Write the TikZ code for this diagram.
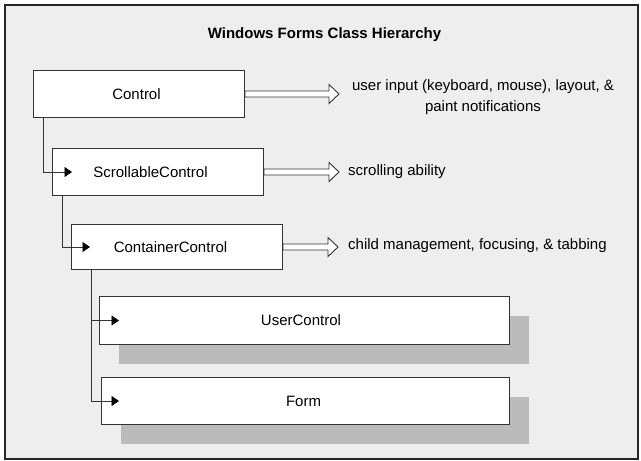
\documentclass[tikz,border=0pt]{standalone}
\usepackage{fontspec}
\setmainfont{Liberation Sans}
\usetikzlibrary{calc,arrows.meta,shadows}
\definecolor{panel}{HTML}{EEEEEE}
\definecolor{shade}{HTML}{BBBBBB}
\definecolor{edge}{HTML}{333333}
\begin{document}
\begin{tikzpicture}[x=1pt,y=-1pt,
  every node/.style={font=\fontsize{15}{21}\selectfont},
  box/.style={draw=edge, line width=1pt, fill=white, anchor=north west, inner sep=0pt},
  shadowed/.style={drop shadow={shadow xshift=19.5pt, shadow yshift=-19pt, fill=shade, opacity=1}},
  txt/.style={inner sep=0pt, text=black},
  tree/.style={draw=edge, line width=0.9pt, -{Triangle[length=7.5pt,width=10pt,fill=black,color=black]}},
  hollow/.style={draw=edge, line width=0.9pt, fill=white, line join=miter,
    to path={let \p1=(\tikztostart), \p2=(\tikztotarget) in
      (\x1,\y1+3pt) -- (\x2-10pt,\y1+3pt) -- (\x2-10pt,\y1+9.5pt) -- (\x2,\y1)
      -- (\x2-10pt,\y1-9.5pt) -- (\x2-10pt,\y1-3pt) -- (\x1,\y1-3pt) -- cycle}}
]
\useasboundingbox (0,0) rectangle (641,461);
\draw[fill=panel, draw=black!85, line width=1.6pt] (5,5) rectangle (638,459);

\node[font=\fontsize{15}{18}\selectfont\bfseries] (title) at (324.5,35) {Windows Forms Class Hierarchy};

% class boxes
\node[box, minimum width=211pt, minimum height=47pt] (ctrl) at (33,70) {\hspace*{-5pt}Control};
\node[box, minimum width=211pt, minimum height=47pt] (scroll) at (52,148) {\hspace*{-15pt}ScrollableControl};
\node[box, minimum width=211pt, minimum height=45pt] (cont) at (71,224) {\hspace*{-13pt}ContainerControl};
\node[box, shadowed, minimum width=410pt, minimum height=48pt] (uc) at (99,296) {\hspace*{-7pt}UserControl};
\node[box, shadowed, minimum width=408pt, minimum height=47pt] (form) at (101,377) {\hspace*{-4pt}Form};

% inheritance connectors
\coordinate (a1) at ([xshift=20pt]scroll.west);
\coordinate (a2) at ([xshift=19pt]cont.west);
\coordinate (a3) at ([xshift=20pt]uc.west);
\coordinate (a4) at ([xshift=18pt]form.west);
\draw[tree] ([xshift=10pt]ctrl.south west) |- (a1);
\draw[tree] ([xshift=10pt]scroll.south west) |- (a2);
\draw[tree] ([xshift=20pt]cont.south west) |- (a3);
\draw[tree] ([xshift=20pt]cont.south west) |- (a4);

% descriptions
\node[txt, align=center] (d1) at (483,97) {user input (keyboard, mouse), layout, \&\\paint notifications};
\node[txt, anchor=base west] (d2) at (348,175.5) {scrolling ability};
\node[txt, anchor=base west] (d3) at (348,249.5) {child management, focusing, \& tabbing};

\coordinate (h1) at (339,93.5);
\coordinate (h2) at (339,171);
\coordinate (h3) at (338,246);
\draw[hollow] (ctrl.east) to (h1);
\draw[hollow] (scroll.east) to (h2);
\draw[hollow] (cont.east) to (h3);
\end{tikzpicture}
\end{document}
